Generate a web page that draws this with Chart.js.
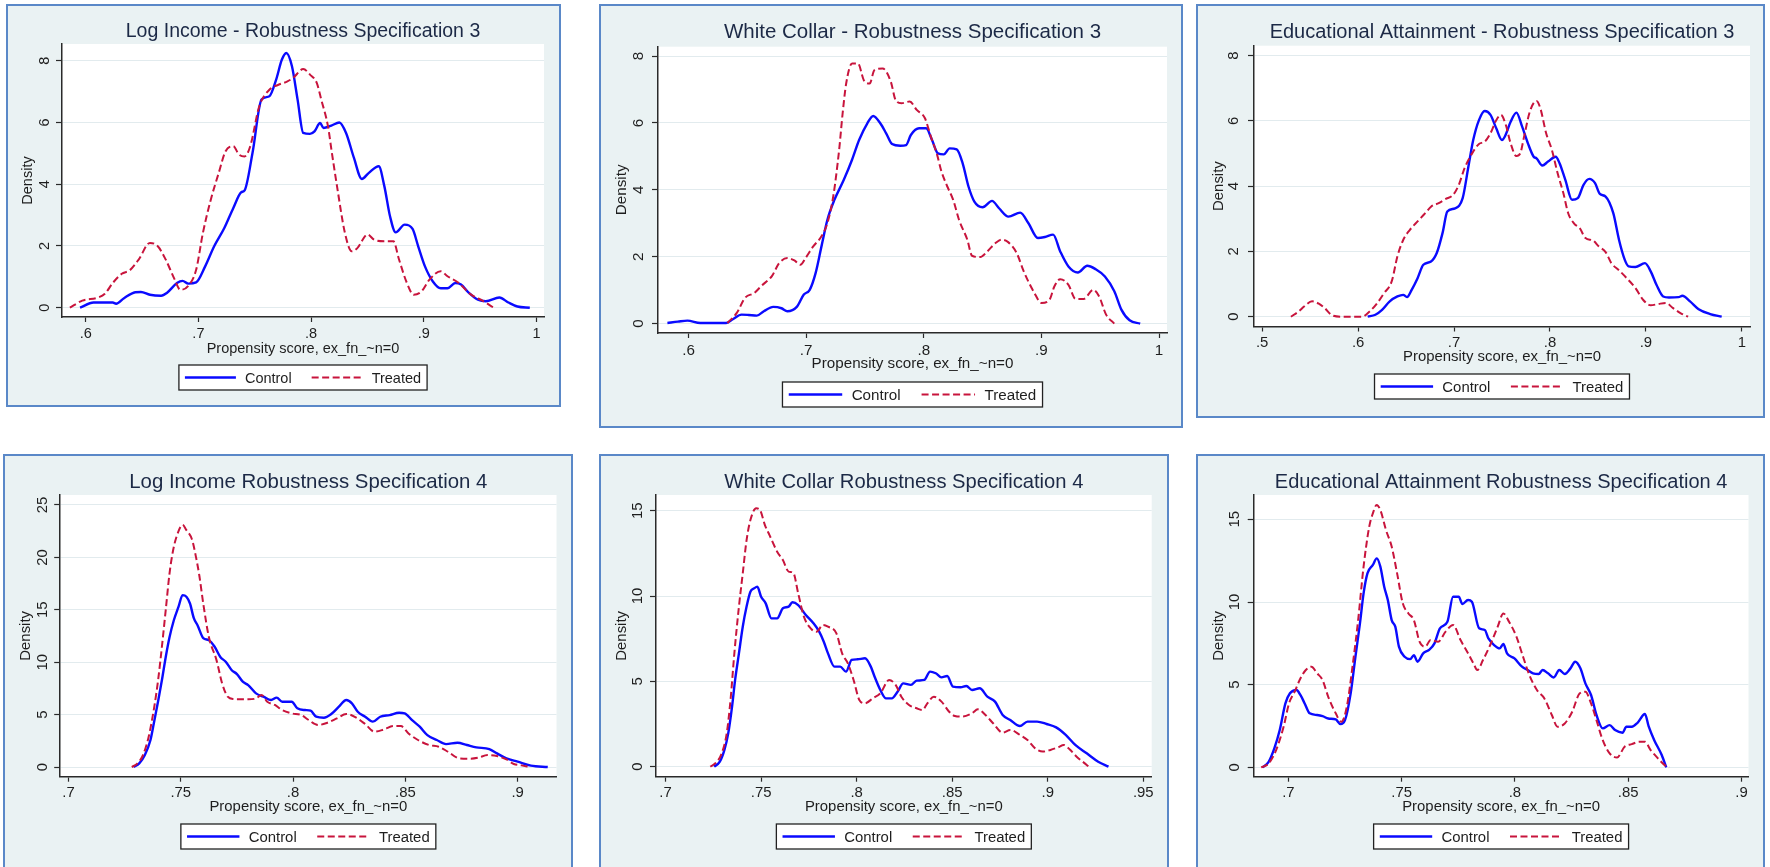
<!DOCTYPE html>
<html><head><meta charset="utf-8">
<script src="https://cdn.jsdelivr.net/npm/chart.js@4.4.1/dist/chart.umd.min.js"></script>
<style>
html,body{margin:0;padding:0;background:#fff;width:1770px;height:867px;overflow:hidden;position:relative;}
.panel{position:absolute;box-sizing:border-box;border:2px solid #5a88c8;background:#eaf2f3;}
.panel canvas{position:absolute;left:0;top:0;}
</style></head><body>
<script>
// ---------------- DATA ----------------
const xAxisTitle = 'Propensity score, ex_fn_~n=0';
const yAxisTitle = 'Density';
const seriesNames = ['Control', 'Treated'];

// Panel 1: Log Income - Robustness Specification 3
const p1Title = 'Log Income - Robustness Specification 3';
const p1Control = [[0.595,0],[0.607,0.17],[0.624,0.17],[0.627,0.13],[0.634,0.31],[0.644,0.5],[0.649,0.51],[0.657,0.42],[0.667,0.39],[0.672,0.48],[0.681,0.8],[0.686,0.87],[0.691,0.78],[0.698,0.82],[0.706,1.34],[0.714,1.99],[0.723,2.58],[0.731,3.23],[0.738,3.74],[0.741,3.8],[0.748,5.01],[0.756,6.74],[0.763,6.85],[0.769,7.39],[0.774,8.03],[0.778,8.25],[0.783,7.82],[0.788,6.74],[0.793,5.66],[0.799,5.63],[0.803,5.71],[0.808,5.98],[0.811,5.82],[0.818,5.9],[0.825,6.0],[0.831,5.66],[0.838,4.85],[0.845,4.17],[0.851,4.36],[0.86,4.58],[0.865,3.93],[0.87,2.96],[0.875,2.44],[0.883,2.69],[0.89,2.55],[0.895,1.99],[0.901,1.34],[0.908,0.85],[0.915,0.63],[0.921,0.63],[0.928,0.8],[0.933,0.75],[0.94,0.48],[0.948,0.26],[0.955,0.21],[0.967,0.33],[0.975,0.17],[0.983,0.04],[0.994,0]];
const p1Treated = [[0.586,0],[0.597,0.23],[0.611,0.33],[0.617,0.45],[0.624,0.8],[0.632,1.1],[0.639,1.21],[0.647,1.56],[0.657,2.1],[0.664,1.99],[0.671,1.56],[0.679,0.91],[0.684,0.58],[0.691,0.71],[0.698,1.23],[0.704,2.42],[0.711,3.5],[0.718,4.36],[0.724,5.06],[0.731,5.23],[0.736,4.96],[0.741,4.9],[0.746,5.23],[0.754,6.52],[0.763,7.06],[0.771,7.22],[0.779,7.33],[0.784,7.44],[0.793,7.73],[0.799,7.55],[0.805,7.28],[0.809,6.74],[0.815,5.87],[0.818,5.12],[0.823,3.93],[0.83,2.42],[0.836,1.83],[0.841,1.93],[0.85,2.37],[0.856,2.2],[0.865,2.15],[0.873,2.15],[0.878,1.56],[0.885,0.8],[0.891,0.42],[0.898,0.53],[0.905,0.91],[0.915,1.18],[0.921,1.02],[0.931,0.8],[0.941,0.45],[0.953,0.21],[0.962,0]];
const p1XTicks = [0.6,0.7,0.8,0.9,1];
const p1XTickLabels = ['.6','.7','.8','.9','1'];
const p1YTicks = [0,2,4,6,8];
const p1YTickLabels = ['0','2','4','6','8'];
const p1XRange = [0.579,1.0066];
const p1YRange = [-0.30,8.54];

// Panel 2: White Collar - Robustness Specification 3
const p2Title = 'White Collar - Robustness Specification 3';
const p2Control = [[0.582,0.02],[0.591,0.06],[0.599,0.09],[0.61,0.02],[0.632,0.02],[0.638,0.14],[0.645,0.27],[0.651,0.26],[0.658,0.24],[0.664,0.37],[0.672,0.5],[0.679,0.46],[0.684,0.37],[0.692,0.5],[0.698,0.87],[0.703,1.01],[0.708,1.51],[0.713,2.31],[0.718,3.1],[0.724,3.7],[0.732,4.3],[0.739,4.9],[0.745,5.49],[0.752,5.99],[0.757,6.21],[0.763,5.99],[0.768,5.69],[0.773,5.37],[0.78,5.32],[0.785,5.34],[0.789,5.64],[0.796,5.84],[0.802,5.84],[0.807,5.49],[0.812,5.09],[0.817,5.06],[0.822,5.24],[0.828,5.21],[0.833,4.8],[0.838,4.1],[0.843,3.65],[0.85,3.48],[0.858,3.67],[0.864,3.45],[0.872,3.2],[0.882,3.32],[0.889,3.0],[0.897,2.56],[0.903,2.59],[0.91,2.66],[0.916,2.16],[0.923,1.71],[0.931,1.53],[0.939,1.73],[0.946,1.63],[0.954,1.41],[0.962,0.97],[0.968,0.42],[0.975,0.1],[0.984,0]];
const p2Treated = [[0.633,0.02],[0.641,0.32],[0.648,0.77],[0.656,0.92],[0.662,1.13],[0.671,1.43],[0.677,1.81],[0.684,1.96],[0.69,1.89],[0.695,1.76],[0.7,1.99],[0.706,2.31],[0.713,2.61],[0.718,3.0],[0.723,3.8],[0.728,5.19],[0.731,6.29],[0.734,7.18],[0.739,7.78],[0.744,7.78],[0.749,7.28],[0.754,7.18],[0.758,7.58],[0.765,7.63],[0.772,7.23],[0.776,6.69],[0.781,6.59],[0.788,6.64],[0.794,6.39],[0.801,6.14],[0.806,5.59],[0.811,5.09],[0.815,4.55],[0.82,4.1],[0.825,3.7],[0.83,3.1],[0.837,2.51],[0.841,2.03],[0.848,1.99],[0.854,2.16],[0.861,2.41],[0.866,2.51],[0.872,2.43],[0.879,2.11],[0.885,1.56],[0.894,0.92],[0.9,0.62],[0.907,0.72],[0.911,1.11],[0.916,1.33],[0.923,1.16],[0.929,0.74],[0.936,0.74],[0.944,1.01],[0.949,0.82],[0.955,0.27],[0.962,0]];
const p2XTicks = [0.6,0.7,0.8,0.9,1];
const p2XTickLabels = ['.6','.7','.8','.9','1'];
const p2YTicks = [0,2,4,6,8];
const p2YTickLabels = ['0','2','4','6','8'];
const p2XRange = [0.574,1.0068];
const p2YRange = [-0.28,8.28];

// Panel 3: Educational Attainment - Robustness Specification 3
const p3Title = 'Educational Attainment - Robustness Specification 3';
const p3Control = [[0.61,0],[0.618,0.06],[0.625,0.21],[0.633,0.47],[0.641,0.62],[0.647,0.67],[0.651,0.6],[0.656,0.83],[0.662,1.18],[0.668,1.59],[0.676,1.69],[0.682,1.95],[0.688,2.56],[0.693,3.22],[0.701,3.32],[0.709,3.63],[0.715,4.6],[0.72,5.41],[0.726,6.02],[0.732,6.3],[0.738,6.18],[0.744,5.77],[0.75,5.41],[0.753,5.52],[0.759,5.97],[0.765,6.25],[0.771,5.82],[0.777,5.31],[0.783,4.9],[0.786,4.85],[0.792,4.63],[0.798,4.75],[0.806,4.9],[0.81,4.7],[0.816,4.19],[0.823,3.58],[0.829,3.63],[0.835,4.04],[0.841,4.22],[0.847,4.09],[0.852,3.76],[0.858,3.68],[0.866,3.17],[0.872,2.35],[0.878,1.74],[0.882,1.54],[0.889,1.52],[0.899,1.64],[0.905,1.39],[0.911,0.98],[0.918,0.62],[0.924,0.59],[0.934,0.6],[0.938,0.64],[0.946,0.47],[0.955,0.23],[0.967,0.08],[0.979,0]];
const p3Treated = [[0.53,0],[0.538,0.16],[0.544,0.32],[0.552,0.47],[0.559,0.4],[0.565,0.27],[0.573,0.04],[0.583,0],[0.604,0],[0.612,0.16],[0.62,0.42],[0.627,0.72],[0.635,1.08],[0.641,1.85],[0.647,2.35],[0.654,2.66],[0.662,2.92],[0.67,3.17],[0.676,3.37],[0.684,3.48],[0.691,3.6],[0.699,3.73],[0.705,4.04],[0.711,4.55],[0.719,5.01],[0.726,5.29],[0.732,5.36],[0.738,5.62],[0.744,6.02],[0.749,6.18],[0.754,5.87],[0.759,5.31],[0.765,4.92],[0.769,5.0],[0.773,5.51],[0.779,6.28],[0.786,6.61],[0.79,6.38],[0.796,5.62],[0.802,5.11],[0.808,4.39],[0.814,3.78],[0.819,3.17],[0.825,2.86],[0.831,2.71],[0.837,2.41],[0.845,2.33],[0.851,2.15],[0.858,1.98],[0.864,1.64],[0.872,1.42],[0.88,1.18],[0.889,0.88],[0.897,0.52],[0.905,0.35],[0.913,0.39],[0.921,0.42],[0.928,0.27],[0.936,0.11],[0.944,0]];
const p3XTicks = [0.5,0.6,0.7,0.8,0.9,1];
const p3XTickLabels = ['.5','.6','.7','.8','.9','1'];
const p3YTicks = [0,2,4,6,8];
const p3YTickLabels = ['0','2','4','6','8'];
const p3XRange = [0.4915,1.0085];
const p3YRange = [-0.30,8.30];

// Panel 4: Log Income Robustness Specification 4
const p4Title = 'Log Income Robustness Specification 4';
const p4Control = [[0.729,0],[0.7315,0.35],[0.734,1.15],[0.7365,2.58],[0.738,4.17],[0.74,6.39],[0.7416,8.3],[0.7433,10.5],[0.745,12.4],[0.7469,14.0],[0.749,15.3],[0.7508,16.4],[0.7525,16.25],[0.7541,15.6],[0.7558,14.2],[0.7575,13.5],[0.76,12.3],[0.7625,12.1],[0.765,11.5],[0.7676,10.5],[0.77,10.05],[0.7726,9.26],[0.775,8.87],[0.7776,8.14],[0.78,7.82],[0.7835,7.03],[0.7868,6.71],[0.7902,6.39],[0.7927,6.62],[0.7952,6.23],[0.7994,6.23],[0.8019,5.6],[0.8053,5.44],[0.8078,5.38],[0.8103,4.8],[0.8137,4.71],[0.817,5.06],[0.8204,5.76],[0.8237,6.39],[0.8262,6.08],[0.8288,5.28],[0.8321,4.8],[0.8355,4.33],[0.8388,4.8],[0.843,4.96],[0.8472,5.18],[0.8497,5.12],[0.853,4.48],[0.8564,3.85],[0.8598,3.05],[0.864,2.58],[0.8681,2.19],[0.8732,2.32],[0.8774,2.1],[0.8816,1.88],[0.8874,1.72],[0.8908,1.3],[0.895,0.83],[0.9,0.51],[0.9059,0.13],[0.9134,0]];
const p4Treated = [[0.7282,0],[0.7307,0.35],[0.7332,1.15],[0.7357,2.9],[0.7382,5.76],[0.7399,8.3],[0.7416,11.5],[0.7433,15.0],[0.745,18.5],[0.7466,20.7],[0.7483,22.1],[0.7508,23.1],[0.7525,22.6],[0.755,21.7],[0.7567,20.1],[0.7583,18.2],[0.76,15.6],[0.7625,12.4],[0.7659,10.2],[0.7684,7.98],[0.7709,6.71],[0.7734,6.49],[0.7801,6.46],[0.7835,6.55],[0.786,6.87],[0.7885,6.23],[0.7919,5.92],[0.7952,5.44],[0.7994,5.12],[0.8036,4.96],[0.807,4.48],[0.8111,4.01],[0.8153,4.23],[0.8195,4.64],[0.8237,5.06],[0.8279,4.74],[0.8321,4.1],[0.8363,3.37],[0.8405,3.59],[0.8447,3.91],[0.848,3.91],[0.8514,3.21],[0.8556,2.58],[0.8606,2.1],[0.8648,1.94],[0.869,1.46],[0.874,0.83],[0.879,0.8],[0.8824,0.89],[0.8866,1.15],[0.8908,1.05],[0.895,0.73],[0.8983,0.29],[0.9017,0.16],[0.9055,0]];
const p4XTicks = [0.7,0.75,0.8,0.85,0.9];
const p4XTickLabels = ['.7','.75','.8','.85','.9'];
const p4YTicks = [0,5,10,15,20,25];
const p4YTickLabels = ['0','5','10','15','20','25'];
const p4XRange = [0.6963,0.9173];
const p4YRange = [-0.92,25.95];

// Panel 5: White Collar Robustness Specification 4
const p5Title = 'White Collar Robustness Specification 4';
const p5Control = [[0.7254,0],[0.7284,0.29],[0.7308,0.98],[0.7328,1.95],[0.7348,3.52],[0.7364,5.08],[0.7384,6.64],[0.7404,8.2],[0.7424,9.38],[0.7444,10.25],[0.7464,10.45],[0.748,10.55],[0.75,9.96],[0.7524,9.57],[0.7554,8.69],[0.7584,8.69],[0.7614,9.28],[0.7644,9.38],[0.7664,9.63],[0.7694,9.47],[0.7734,8.89],[0.7774,8.4],[0.7804,7.91],[0.7828,7.32],[0.785,6.64],[0.7884,5.86],[0.7914,5.86],[0.7944,5.57],[0.7974,6.25],[0.8004,6.29],[0.8044,6.35],[0.8074,5.86],[0.8094,5.27],[0.8124,4.49],[0.8154,4.0],[0.8184,4.0],[0.8214,4.39],[0.8244,4.88],[0.8284,4.79],[0.8314,5.04],[0.8354,5.08],[0.8384,5.57],[0.8414,5.47],[0.8444,5.23],[0.8474,5.31],[0.8504,4.69],[0.8544,4.65],[0.8574,4.73],[0.8604,4.49],[0.8644,4.59],[0.8684,4.1],[0.8724,3.81],[0.8764,3.03],[0.8804,2.73],[0.8854,2.38],[0.8894,2.64],[0.8944,2.64],[0.8994,2.5],[0.9044,2.3],[0.9094,1.86],[0.9144,1.27],[0.9204,0.78],[0.9264,0.29],[0.9318,0]];
const p5Treated = [[0.7234,0],[0.7264,0.23],[0.7294,0.78],[0.732,1.95],[0.734,3.91],[0.736,6.64],[0.7384,9.38],[0.7404,11.33],[0.7424,13.28],[0.7444,14.45],[0.7474,15.14],[0.7494,15.04],[0.752,14.16],[0.7544,13.57],[0.7584,12.6],[0.7614,12.11],[0.7644,11.43],[0.7668,11.37],[0.7694,10.16],[0.7724,8.79],[0.7764,8.05],[0.779,7.91],[0.7824,8.3],[0.785,8.2],[0.7894,7.81],[0.7924,6.64],[0.7954,6.05],[0.7984,5.08],[0.8014,3.91],[0.8044,3.71],[0.8084,4.0],[0.8124,4.3],[0.817,5.08],[0.8204,4.79],[0.8234,4.1],[0.8274,3.61],[0.8314,3.42],[0.8344,3.32],[0.837,3.71],[0.8404,4.1],[0.8444,3.81],[0.8484,3.22],[0.8514,2.97],[0.8554,2.93],[0.8604,3.13],[0.8634,3.36],[0.8674,3.03],[0.8714,2.54],[0.8764,1.99],[0.8804,2.15],[0.8854,1.86],[0.8894,1.56],[0.8934,1.07],[0.8974,0.88],[0.9014,0.98],[0.9054,1.13],[0.9084,1.27],[0.9114,1.02],[0.9154,0.55],[0.9204,0.1],[0.9214,0]];
const p5XTicks = [0.7,0.75,0.8,0.85,0.9,0.95];
const p5XTickLabels = ['.7','.75','.8','.85','.9','.95'];
const p5YTicks = [0,5,10,15];
const p5YTickLabels = ['0','5','10','15'];
const p5XRange = [0.695,0.9544];
const p5YRange = [-0.59,15.92];

// Panel 6: Educational Attainment Robustness Specification 4
const p6Title = 'Educational Attainment Robustness Specification 4';
const p6Control = [[0.6885,0],[0.6913,0.34],[0.6938,1.15],[0.6962,2.26],[0.6987,3.87],[0.7007,4.48],[0.7036,4.68],[0.7053,4.38],[0.7072,3.87],[0.7094,3.27],[0.7127,3.17],[0.7151,3.1],[0.7176,2.96],[0.7209,2.9],[0.723,2.62],[0.725,2.86],[0.7275,4.48],[0.7296,6.69],[0.7316,8.71],[0.7332,10.52],[0.7349,11.73],[0.7373,12.24],[0.739,12.64],[0.7406,12.14],[0.7423,10.93],[0.7439,10.12],[0.7456,8.91],[0.7472,8.51],[0.7488,7.3],[0.7513,6.69],[0.7538,6.55],[0.7554,6.79],[0.757,6.39],[0.7595,6.9],[0.762,7.1],[0.7645,7.5],[0.7669,8.41],[0.7702,8.81],[0.7727,10.32],[0.7752,10.32],[0.7768,9.88],[0.7793,10.12],[0.781,10.02],[0.7842,8.41],[0.7867,8.31],[0.7883,7.8],[0.7908,7.4],[0.7933,7.2],[0.7949,7.46],[0.7965,6.9],[0.7998,6.59],[0.8031,6.09],[0.8056,5.89],[0.808,5.69],[0.8105,5.65],[0.8122,5.89],[0.8146,5.69],[0.8171,5.44],[0.8196,5.89],[0.822,5.65],[0.8245,5.99],[0.8266,6.39],[0.8289,5.99],[0.8311,5.08],[0.8336,4.38],[0.836,3.17],[0.8388,2.36],[0.8418,2.56],[0.8442,2.26],[0.8475,2.1],[0.8492,2.46],[0.8516,2.46],[0.8541,2.7],[0.8574,3.23],[0.859,2.5],[0.8615,1.65],[0.8648,0.75],[0.8668,0]];
const p6Treated = [[0.688,0],[0.6913,0.24],[0.6946,1.05],[0.6979,2.46],[0.7003,3.87],[0.7028,4.58],[0.7053,5.38],[0.7077,5.89],[0.7102,6.09],[0.7127,5.69],[0.7151,5.28],[0.7176,4.27],[0.7209,3.27],[0.7234,2.76],[0.7258,3.67],[0.7283,6.09],[0.7308,8.91],[0.7332,12.14],[0.7357,14.56],[0.7373,15.36],[0.739,15.87],[0.7406,15.56],[0.7431,14.35],[0.7456,13.35],[0.748,11.73],[0.7505,9.92],[0.753,9.31],[0.7554,8.91],[0.7579,7.6],[0.7604,7.3],[0.7628,7.7],[0.7661,7.6],[0.7694,8.21],[0.7727,8.61],[0.776,7.7],[0.7793,6.9],[0.7817,6.29],[0.7834,5.89],[0.7859,6.49],[0.7891,7.4],[0.7924,8.51],[0.7949,9.31],[0.7974,8.81],[0.8007,7.9],[0.8031,6.9],[0.8064,5.58],[0.8097,4.68],[0.813,4.17],[0.8163,3.17],[0.8188,2.46],[0.822,2.66],[0.8253,3.37],[0.8286,4.48],[0.8311,4.58],[0.8336,3.87],[0.836,2.86],[0.8385,1.75],[0.8418,0.85],[0.8451,0.6],[0.8484,1.25],[0.8516,1.41],[0.8549,1.55],[0.8574,1.55],[0.8599,1.05],[0.8632,0.54],[0.8661,0.14],[0.8681,0]];
const p6XTicks = [0.7,0.75,0.8,0.85,0.9];
const p6XTickLabels = ['.7','.75','.8','.85','.9'];
const p6YTicks = [0,5,10,15];
const p6YTickLabels = ['0','5','10','15'];
const p6XRange = [0.6847,0.9031];
const p6YRange = [-0.56,16.47];

// ---------------- LAYOUT (page pixel positions, styles) ----------------
const FONT = '"Liberation Sans", Arial, Helvetica, sans-serif';
Chart.defaults.font.family = FONT;
const layouts = [
  {frame:[6,4,555,403], plot:[62,44,544,317], titleY:32, tickY:334, axTitleY:349, legendTop:365, legendH:25, densX:27.5, ytickX:44.5, ts:19.5, fs:14.5},
  {frame:[599,4,584,424], plot:[658,46.7,1167,333], titleY:32, tickY:351, axTitleY:364, legendTop:382, legendH:25, densX:622.3, ytickX:638.8, ts:20.5, fs:15.2},
  {frame:[1196,4,569,414], plot:[1254,45.7,1750,326.5], titleY:32, tickY:343, axTitleY:356.7, legendTop:374, legendH:25, densX:1219, ytickX:1234, ts:20, fs:14.9},
  {frame:[3,454,570,430], plot:[60.2,495,556.5,776.7], titleY:482.3, tickY:793.3, axTitleY:806.7, legendTop:824, legendH:25, densX:26.3, ytickX:43.3, ts:20.4, fs:14.9},
  {frame:[599,454,570,430], plot:[656,495,1151.7,776.7], titleY:482.3, tickY:793.3, axTitleY:806.7, legendTop:824, legendH:25, densX:622.3, ytickX:638, ts:20.2, fs:14.9},
  {frame:[1196,454,569,430], plot:[1253.7,495,1748.5,776.7], titleY:482.3, tickY:793.3, axTitleY:806.7, legendTop:824, legendH:25, densX:1219, ytickX:1235, ts:20, fs:14.9}
];
const panels = [
  {title:p1Title, control:p1Control, treated:p1Treated, xTicks:p1XTicks, xLabels:p1XTickLabels, yTicks:p1YTicks, yLabels:p1YTickLabels, xRange:p1XRange, yRange:p1YRange},
  {title:p2Title, control:p2Control, treated:p2Treated, xTicks:p2XTicks, xLabels:p2XTickLabels, yTicks:p2YTicks, yLabels:p2YTickLabels, xRange:p2XRange, yRange:p2YRange},
  {title:p3Title, control:p3Control, treated:p3Treated, xTicks:p3XTicks, xLabels:p3XTickLabels, yTicks:p3YTicks, yLabels:p3YTickLabels, xRange:p3XRange, yRange:p3YRange},
  {title:p4Title, control:p4Control, treated:p4Treated, xTicks:p4XTicks, xLabels:p4XTickLabels, yTicks:p4YTicks, yLabels:p4YTickLabels, xRange:p4XRange, yRange:p4YRange},
  {title:p5Title, control:p5Control, treated:p5Treated, xTicks:p5XTicks, xLabels:p5XTickLabels, yTicks:p5YTicks, yLabels:p5YTickLabels, xRange:p5XRange, yRange:p5YRange},
  {title:p6Title, control:p6Control, treated:p6Treated, xTicks:p6XTicks, xLabels:p6XTickLabels, yTicks:p6YTicks, yLabels:p6YTickLabels, xRange:p6XRange, yRange:p6YRange}
];

const COLORS = {control:'#0a0aff', treated:'#c8143c', axis:'#2a2a2a', text:'#1e1e1e', title:'#1c2946', grid:'#e2ebee'};

const plotBg = {
  id:'plotBg',
  beforeDraw(chart){
    const {ctx, chartArea:a} = chart;
    ctx.save(); ctx.fillStyle = '#ffffff';
    ctx.fillRect(a.left, a.top, a.right - a.left, a.bottom - a.top);
    ctx.restore();
  }
};
const boxLegend = {
  id:'boxLegend',
  afterDraw(chart, args, o){
    const {ctx, chartArea:a} = chart;
    ctx.save();
    ctx.font = o.fs + 'px ' + FONT;
    const k = o.fs / 14.5;
    const pad = 6*k, lineLen = 51*k, gap = 9*k, itemGap = 20*k;
    const items = chart.data.datasets.map(ds => ({ds, w: ctx.measureText(ds.label).width}));
    const total = pad*2 + items.reduce((s,it)=> s + lineLen + gap + it.w, 0) + itemGap*(items.length-1);
    const x0 = (a.left + a.right)/2 - total/2, y0 = o.top, h = o.h;
    ctx.fillStyle = '#fff'; ctx.fillRect(x0, y0, total, h);
    ctx.strokeStyle = '#222'; ctx.lineWidth = 1.3; ctx.strokeRect(x0, y0, total, h);
    let x = x0 + pad; const ym = y0 + h/2;
    items.forEach(it => {
      ctx.beginPath();
      ctx.setLineDash(it.ds.borderDash || []);
      ctx.strokeStyle = it.ds.borderColor; ctx.lineWidth = it.ds.borderWidth;
      ctx.moveTo(x, ym); ctx.lineTo(x + lineLen, ym); ctx.stroke();
      ctx.setLineDash([]);
      x += lineLen + gap;
      ctx.fillStyle = COLORS.text; ctx.textBaseline = 'middle'; ctx.textAlign = 'left';
      ctx.fillText(it.ds.label, x, ym + 1);
      x += it.w + itemGap;
    });
    ctx.restore();
  }
};

function build(p, L){
  const bw = 2;
  const div = document.createElement('div');
  div.className = 'panel';
  div.style.left = L.frame[0] + 'px'; div.style.top = L.frame[1] + 'px';
  div.style.width = L.frame[2] + 'px'; div.style.height = L.frame[3] + 'px';
  document.body.appendChild(div);
  const W = L.frame[2] - 2*bw, H = L.frame[3] - 2*bw;
  const ox = L.frame[0] + bw, oy = L.frame[1] + bw;
  const canvas = document.createElement('canvas');
  canvas.width = W; canvas.height = H;
  canvas.style.width = W + 'px'; canvas.style.height = H + 'px';
  div.appendChild(canvas);
  const cl = L.plot[0] - ox, ct = L.plot[1] - oy, cr = L.plot[2] - ox, cb = L.plot[3] - oy;
  const fs = L.fs, ts = L.ts, lh = fs*1.2, lhT = ts*1.2;
  const xTickLen = 5, yTickLen = 6;
  const xTitlePadB = 2;
  const xAxisH = (L.axTitleY - oy) + lh/2 + xTitlePadB - cb;
  const xTickPad = (L.tickY - oy) - cb - xTickLen - lh/2;
  const m = canvas.getContext('2d'); m.font = fs + 'px ' + FONT;
  const widest = Math.max(...p.yLabels.map(s => m.measureText(s).width));
  const yTickPad = (L.plot[0] - L.ytickX) - yTickLen - widest/2;
  const yTitlePad = (L.densX - ox) - lh/2;
  const topTitlePad = (L.titleY - oy) - lhT/2;
  const font = {family:FONT, size:fs, lineHeight:1.2};

  new Chart(canvas, {
    type:'line',
    data:{datasets:[
      {label:seriesNames[0], data:p.control.map(d=>({x:d[0], y:d[1]})), xAxisID:'x', yAxisID:'y',
       borderColor:COLORS.control, borderWidth:2.4, pointRadius:0, fill:false, cubicInterpolationMode:'monotone', order:1},
      {label:seriesNames[1], data:p.treated.map(d=>({x:d[0], y:d[1]})), xAxisID:'x', yAxisID:'y',
       borderColor:COLORS.treated, borderWidth:2, borderDash:[7,3.5], pointRadius:0, fill:false, cubicInterpolationMode:'monotone', order:0}
    ]},
    options:{
      responsive:false, animation:false, devicePixelRatio:1,
      layout:{padding:{left:0, top:0, right:W - cr, bottom:H - cb - xAxisH}},
      plugins:{legend:{display:false}, title:{display:false}, tooltip:{enabled:false},
               boxLegend:{fs:fs, top:L.legendTop - oy, h:L.legendH}},
      events:[],
      scales:{
        x:{type:'linear', position:'bottom', min:p.xRange[0], max:p.xRange[1],
           afterBuildTicks:s=>{ s.ticks = p.xTicks.map(v=>({value:v})); },
           afterFit:s=>{ s.height = xAxisH; },
           ticks:{autoSkip:false, minRotation:0, maxRotation:0, padding:xTickPad, color:COLORS.text, font:font,
                  callback:(v,i)=>p.xLabels[i]},
           grid:{drawOnChartArea:false, color:COLORS.axis, tickColor:COLORS.axis, tickLength:xTickLen, tickWidth:1.2},
           border:{display:true, color:COLORS.axis, width:1.5},
           title:{display:true, text:xAxisTitle, color:COLORS.text, font:font, padding:{top:0, bottom:xTitlePadB}}},
        y:{type:'linear', position:'left', min:p.yRange[0], max:p.yRange[1],
           afterBuildTicks:s=>{ s.ticks = p.yTicks.map(v=>({value:v})); },
           afterFit:s=>{ s.width = cl; },
           ticks:{autoSkip:false, minRotation:90, maxRotation:90, crossAlign:'center', padding:yTickPad, color:COLORS.text, font:font,
                  callback:(v,i)=>p.yLabels[i]},
           grid:{color:COLORS.grid, lineWidth:1, tickColor:COLORS.axis, tickLength:yTickLen, tickWidth:1.2},
           border:{display:true, color:COLORS.axis, width:1.5},
           title:{display:true, text:yAxisTitle, color:COLORS.text, font:font, padding:{top:yTitlePad, bottom:0}}},
        t:{type:'linear', position:'top',
           afterFit:s=>{ s.height = ct; },
           ticks:{display:false}, grid:{display:false, drawTicks:false}, border:{display:false},
           title:{display:true, text:p.title, color:COLORS.title, font:{family:FONT, size:ts, lineHeight:1.2}, padding:{top:topTitlePad, bottom:0}}}
      }
    },
    plugins:[plotBg, boxLegend]
  });
}
panels.forEach((p,i)=>build(p, layouts[i]));
</script>
</body></html>
